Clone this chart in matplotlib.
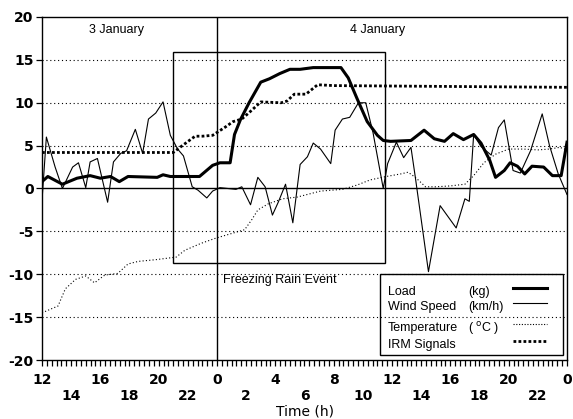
import numpy as np
import matplotlib
matplotlib.use('Agg')
from matplotlib import pyplot as plt
from matplotlib.patches import Rectangle

plt.rcParams['font.family'] = ['Liberation Sans', 'DejaVu Sans']
plt.rcParams['axes.unicode_minus'] = False

# time in hours from 3 January 00:00
load_t = [12, 12.4, 13.4, 14.4, 15.3, 16, 16.7, 17.3, 17.9, 19.9, 20.3, 20.8, 22.8, 23.7, 24.2,
          24.9, 25.2, 25.6, 26.2, 27.0, 27.6, 28.3, 29.0, 29.7, 30.6, 32.5, 33.0, 33.6, 34.3,
          35.0, 35.4, 35.9, 37.3, 38.2, 38.9, 39.6, 40.2, 40.9, 41.6, 42.1, 42.7, 43.1, 43.7,
          44.1, 44.6, 45.1, 45.6, 46.4, 47.0, 47.6, 48]
load_v = [0.8, 1.4, 0.5, 1.2, 1.5, 1.2, 1.4, 0.8, 1.4, 1.3, 1.6, 1.4, 1.4, 2.7, 3.0,
          3.0, 6.3, 8.0, 10.0, 12.4, 12.8, 13.4, 13.9, 13.9, 14.1, 14.1, 12.9, 10.5, 7.8,
          6.2, 5.6, 5.5, 5.6, 6.8, 5.8, 5.5, 6.4, 5.7, 6.3, 5.3, 3.3, 1.3, 2.1,
          3.0, 2.6, 1.7, 2.6, 2.5, 1.5, 1.5, 5.4]

wind_t = [12, 12.3, 12.9, 13.4, 14.1, 14.5, 15.0, 15.3, 15.8, 16.5, 16.9, 17.4, 17.8, 18.4,
          18.9, 19.3, 19.8, 20.3, 20.8, 21.3, 21.7, 22.3, 22.7, 23.3, 23.7, 24.2, 25.3, 25.7,
          26.3, 26.8, 27.3, 27.8, 28.2, 28.7, 29.2, 29.7, 30.2, 30.6, 31.1, 31.8, 32.1, 32.6,
          33.1, 33.7, 34.2, 34.7, 35.4, 35.7, 36.3, 36.8, 37.3, 37.6, 38.5, 39.3, 40.4, 41.0,
          41.3, 41.6, 42.1, 42.8, 43.3, 43.7, 44.3, 44.8, 45.5, 46.3, 46.8, 47.4, 48]
wind_v = [-1.4, 6.0, 2.5, 0.0, 2.5, 3.0, 0.1, 3.1, 3.5, -1.6, 3.1, 4.1, 4.4, 6.9,
          4.1, 8.1, 8.8, 10.1, 6.2, 4.6, 3.8, 0.2, -0.2, -1.1, -0.3, 0.1, -0.1, 0.2,
          -1.9, 1.3, 0.2, -3.1, -1.6, 0.5, -4.0, 2.8, 3.7, 5.3, 4.6, 2.9, 6.8, 8.1,
          8.3, 10.0, 10.0, 6.5, 0.0, 2.9, 5.4, 3.6, 4.8, 1.3, -9.7, -2.0, -4.6, -1.2,
          -1.5, 6.3, 4.9, 3.9, 7.1, 8.0, 2.1, 1.8, 4.4, 8.7, 5.0, 1.7, -0.7]

temp_t = [12, 13.1, 13.6, 14.3, 15.0, 15.6, 16.3, 17.2, 17.9, 18.6, 19.8, 21.2, 21.8, 22.9,
          23.9, 24.9, 25.9, 26.4, 26.8, 27.5, 28.5, 29.5, 31.1, 32.6, 33.6, 34.5, 35.6, 36.6,
          37.1, 37.6, 38.3, 39.0, 40.0, 41.0, 41.6, 42.3, 43.1, 44.0, 45.0, 46.0, 46.8, 47.5, 48]
temp_v = [-14.5, -13.7, -11.7, -10.6, -10.2, -11.0, -10.1, -9.9, -8.8, -8.5, -8.3, -8.0, -7.2, -6.4,
          -5.8, -5.3, -4.8, -3.6, -2.5, -1.8, -1.2, -1.0, -0.3, -0.1, 0.4, 1.0, 1.4, 1.7,
          1.9, 1.3, 0.2, 0.2, 0.3, 0.5, 1.5, 3.0, 4.0, 4.6, 4.6, 4.5, 4.6, 4.8, 4.5]

irm_t = [12, 21.0, 21.7, 22.5, 23.0, 23.7, 24.6, 25.1, 25.7, 26.3, 27.0, 28.4, 28.8, 29.3, 30.1,
         30.9, 32.0, 48]
irm_v = [4.2, 4.2, 5.1, 6.1, 6.1, 6.2, 7.2, 7.8, 8.1, 9.0, 10.1, 10.0, 10.2, 11.0, 11.0,
         12.1, 12.0, 11.8]

event_start, event_end = 21.0, 35.5
event_low, event_high = -8.7, 15.9

fig = plt.figure(figsize=(5.73, 4.19), dpi=100)
ax = fig.add_axes([42 / 573, 1 - 360 / 419, 525 / 573, 343 / 419])

# grid
for g in [-15, -10, -5, 5, 10, 15]:
    ax.axhline(g, color='black', lw=0.8, linestyle=(0, (1, 2.5)), zorder=1)
ax.axhline(0, color='black', lw=1.0, zorder=1)
ax.axvline(24, color='black', lw=1.0, zorder=1)

ax.add_patch(Rectangle((event_start, event_low), event_end - event_start, event_high - event_low,
                       fill=False, edgecolor='black', lw=1.0, zorder=2))

ax.plot(temp_t, temp_v, color='black', lw=0.8, linestyle=(0, (1, 2)), zorder=3)
ax.plot(irm_t, irm_v, color='black', lw=2.0, linestyle=(0, (1, 0.8)), zorder=3)
ax.plot(wind_t, wind_v, color='black', lw=0.8, zorder=4)
ax.plot(load_t, load_v, color='black', lw=2.2, zorder=5)

ax.text(15.2, 18.5, '3 January', fontsize=9, va='center')
ax.text(33.1, 18.5, '4 January', fontsize=9, va='center')
ax.text(24.4, -10.7, 'Freezing Rain Event', fontsize=9, va='center')

# legend drawn by hand
ax.add_patch(Rectangle((0.644, 0.015), 0.348, 0.235, transform=ax.transAxes,
                       fill=False, edgecolor='black', lw=1.0, zorder=6))
names = ['Load', 'Wind Speed', 'Temperature', 'IRM Signals']
units = ['(kg)', '(km/h)', r'( $^{\rm o}$C )', '']
styles = [dict(lw=2.2), dict(lw=0.8), dict(lw=0.8, linestyle=(0, (1, 1.5))),
          dict(lw=2.0, linestyle=(0, (1, 0.8)))]
rows = [0.198, 0.155, 0.093, 0.044]
for name, unit, st, ry in zip(names, units, styles, rows):
    ax.text(0.659, ry, name, transform=ax.transAxes, fontsize=9, va='center')
    ax.text(0.811, ry, unit, transform=ax.transAxes, fontsize=9, va='center')
    ax.plot([0.897, 0.962], [ry + 0.012, ry + 0.012], transform=ax.transAxes,
            color='black', **st)

ax.set_xlim(12, 48)
ax.set_ylim(-20, 20)
ax.set_yticks(np.arange(-20, 21, 5))
ax.set_yticklabels([str(v) for v in range(-20, 21, 5)], family='DejaVu Sans',
                   fontweight='bold', fontsize=10)
xt = np.arange(12, 49, 2)
xl = []
for i, h in enumerate(xt):
    lab = str(int(h) % 24)
    xl.append(lab if i % 2 == 0 else '\n' + lab)
ax.set_xticks(xt)
ax.set_xticklabels(xl, family='DejaVu Sans', fontweight='bold', fontsize=10,
                   linespacing=1.25)
ax.set_xticks(np.arange(12, 48.01, 1 / 3), minor=True)
ax.tick_params(axis='both', which='both', direction='out', length=4, width=0.9,
               colors='black')
ax.tick_params(axis='x', pad=5)
ax.tick_params(axis='y', pad=2)
ax.set_xlabel('Time (h)', family='DejaVu Sans', fontsize=10, labelpad=1)
for s in ax.spines.values():
    s.set_linewidth(1.0)

plt.savefig('out.png', dpi=100)
